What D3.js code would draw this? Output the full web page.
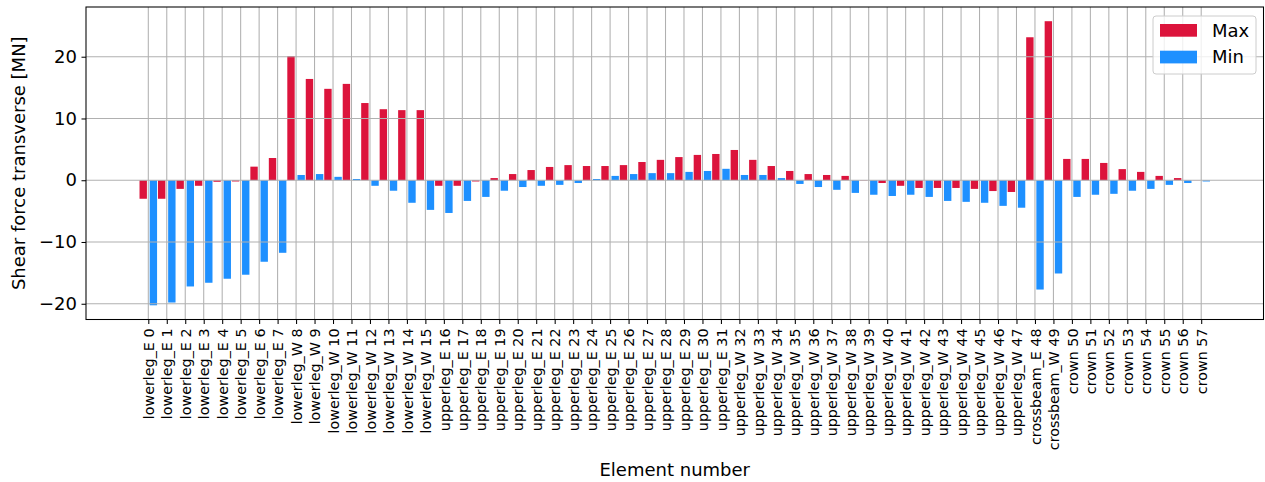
<!DOCTYPE html>
<html>
<head>
<meta charset="utf-8">
<script src="https://cdn.jsdelivr.net/npm/d3@7"></script>
<style>
	body { margin: 0; background: #fff; }
	text { font-family: "DejaVu Sans", sans-serif; fill: #000; }
</style>
</head>
<body>
<svg id="chart" width="1265" height="482"></svg>
<script>
var names = [
	"lowerleg_E 0", "lowerleg_E 1", "lowerleg_E 2", "lowerleg_E 3", "lowerleg_E 4", "lowerleg_E 5", "lowerleg_E 6", "lowerleg_E 7",
	"lowerleg_W 8", "lowerleg_W 9", "lowerleg_W 10", "lowerleg_W 11", "lowerleg_W 12", "lowerleg_W 13", "lowerleg_W 14", "lowerleg_W 15",
	"upperleg_E 16", "upperleg_E 17", "upperleg_E 18", "upperleg_E 19", "upperleg_E 20", "upperleg_E 21", "upperleg_E 22", "upperleg_E 23",
	"upperleg_E 24", "upperleg_E 25", "upperleg_E 26", "upperleg_E 27", "upperleg_E 28", "upperleg_E 29", "upperleg_E 30", "upperleg_E 31",
	"upperleg_W 32", "upperleg_W 33", "upperleg_W 34", "upperleg_W 35", "upperleg_W 36", "upperleg_W 37", "upperleg_W 38", "upperleg_W 39",
	"upperleg_W 40", "upperleg_W 41", "upperleg_W 42", "upperleg_W 43", "upperleg_W 44", "upperleg_W 45", "upperleg_W 46", "upperleg_W 47",
	"crossbeam_E 48", "crossbeam_W 49",
	"crown 50", "crown 51", "crown 52", "crown 53", "crown 54", "crown 55", "crown 56", "crown 57"
];

var maxVals = [
	-3.0, -3.0, -1.4, -0.9, -0.25, -0.2, 2.2, 3.6,
	20.1, 16.4, 14.8, 15.6, 12.5, 11.5, 11.35, 11.35,
	-0.9, -0.9, -0.2, 0.35, 1.0, 1.65, 2.15, 2.45,
	2.3, 2.3, 2.45, 2.95, 3.3, 3.75, 4.1, 4.25,
	4.9, 3.3, 2.3, 1.5, 1.0, 0.85, 0.7, -0.05,
	-0.45, -0.9, -1.25, -1.25, -1.25, -1.4, -1.75, -1.9,
	23.15, 25.75,
	3.45, 3.45, 2.8, 1.8, 1.35, 0.7, 0.35, 0.02
];

var minVals = [
	-20.25, -19.8, -17.2, -16.6, -15.95, -15.3, -13.2, -11.75,
	0.85, 1.0, 0.55, 0.2, -0.9, -1.7, -3.65, -4.8,
	-5.3, -3.35, -2.7, -1.7, -1.1, -0.9, -0.75, -0.45,
	0.2, 0.7, 1.0, 1.15, 1.15, 1.35, 1.5, 1.85,
	0.85, 0.85, 0.35, -0.6, -1.1, -1.55, -2.05, -2.35,
	-2.55, -2.35, -2.7, -3.35, -3.5, -3.65, -4.15, -4.45,
	-17.7, -15.1,
	-2.7, -2.35, -2.2, -1.7, -1.4, -0.75, -0.45, -0.2
];

var yTicks = [-20, -10, 0, 10, 20];
var seriesNames = ["Max", "Min"];
var colors = ["#DC143C", "#1E90FF"];

var plotL = 86, plotR = 1263.5, plotT = 7, plotB = 319.5;
var barW = 0.4, off = 0.275;

// matplotlib style 5% margins
var x0 = -off - barW / 2, x1 = names.length - 1 + off + barW / 2;
var xm = (x1 - x0) * 0.05;
var x = d3.scaleLinear().domain([x0 - xm, x1 + xm]).range([plotL, plotR]);

var lo = d3.min(maxVals.concat(minVals)), hi = d3.max(maxVals.concat(minVals));
var ym = (hi - lo) * 0.05;
var y = d3.scaleLinear().domain([lo - ym, hi + ym]).range([plotB, plotT]);

var svg = d3.select("#chart");

// bars
var series = [maxVals, minVals];
series.forEach(function (vals, s) {
	svg.append("g").selectAll("rect")
		.data(vals)
		.enter().append("rect")
		.attr("x", function (d, i) { return x(i + (s === 0 ? -off : off) - barW / 2); })
		.attr("width", function () { return x(barW) - x(0); })
		.attr("y", function (d) { return y(Math.max(0, d)); })
		.attr("height", function (d) { return Math.abs(y(d) - y(0)); })
		.attr("fill", colors[s]);
});

// grid on top of bars, like the original
var grid = svg.append("g").attr("stroke", "#b0b0b0").attr("stroke-width", 1.05);
grid.selectAll(".gx")
	.data(d3.range(names.length))
	.enter().append("line")
	.attr("x1", function (d) { return x(d); })
	.attr("x2", function (d) { return x(d); })
	.attr("y1", plotT)
	.attr("y2", plotB);
grid.selectAll(".gy")
	.data(yTicks)
	.enter().append("line")
	.attr("x1", plotL)
	.attr("x2", plotR)
	.attr("y1", function (d) { return y(d); })
	.attr("y2", function (d) { return y(d); });

// axes
var xAxis = d3.axisBottom(x)
	.tickValues(d3.range(names.length))
	.tickFormat(function (d) { return names[d]; })
	.tickSize(4.5)
	.tickPadding(4.5);
var gx = svg.append("g").attr("transform", "translate(0," + plotB + ")").call(xAxis);
gx.select(".domain").remove();
gx.selectAll("line").attr("stroke", "#000").attr("stroke-width", 1.05);
gx.selectAll("text")
	.attr("font-size", "14.3px")
	.attr("font-family", "DejaVu Sans")
	.attr("transform", "rotate(-90)")
	.attr("text-anchor", "end")
	.attr("x", -9)
	.attr("y", 0)
	.attr("dy", "0.36em");

var yAxis = d3.axisLeft(y)
	.tickValues(yTicks)
	.tickFormat(function (d) { return d < 0 ? "\u2212" + Math.abs(d) : d; })
	.tickSize(4.5)
	.tickPadding(4.5);
var gy = svg.append("g").attr("transform", "translate(" + plotL + ",0)").call(yAxis);
gy.select(".domain").remove();
gy.selectAll("line").attr("stroke", "#000").attr("stroke-width", 1.05);
gy.selectAll("text")
	.attr("font-size", "18px")
	.attr("font-family", "DejaVu Sans");

// frame
svg.append("rect")
	.attr("x", plotL)
	.attr("y", plotT)
	.attr("width", plotR - plotL)
	.attr("height", plotB - plotT)
	.attr("fill", "none")
	.attr("stroke", "#000")
	.attr("stroke-width", 1.05);

// axis labels
svg.append("text")
	.attr("x", (plotL + plotR) / 2)
	.attr("y", 476)
	.attr("text-anchor", "middle")
	.attr("font-size", "18px")
	.text("Element number");

svg.append("text")
	.attr("transform", "translate(25," + ((plotT + plotB) / 2) + ") rotate(-90)")
	.attr("text-anchor", "middle")
	.attr("font-size", "18px")
	.text("Shear force transverse [MN]");

// legend
var legend = svg.append("g");
legend.append("rect")
	.attr("x", 1153)
	.attr("y", 16)
	.attr("width", 103)
	.attr("height", 58)
	.attr("rx", 3)
	.attr("fill", "#fff")
	.attr("fill-opacity", 0.8)
	.attr("stroke", "#cccccc")
	.attr("stroke-width", 1);
seriesNames.forEach(function (name, i) {
	legend.append("rect")
		.attr("x", 1160)
		.attr("y", 24 + i * 26.7)
		.attr("width", 37)
		.attr("height", 12.7)
		.attr("fill", colors[i]);
	legend.append("text")
		.attr("x", 1212)
		.attr("y", 36.7 + i * 26.7)
		.attr("font-size", "18px")
		.text(name);
});
</script>
</body>
</html>
